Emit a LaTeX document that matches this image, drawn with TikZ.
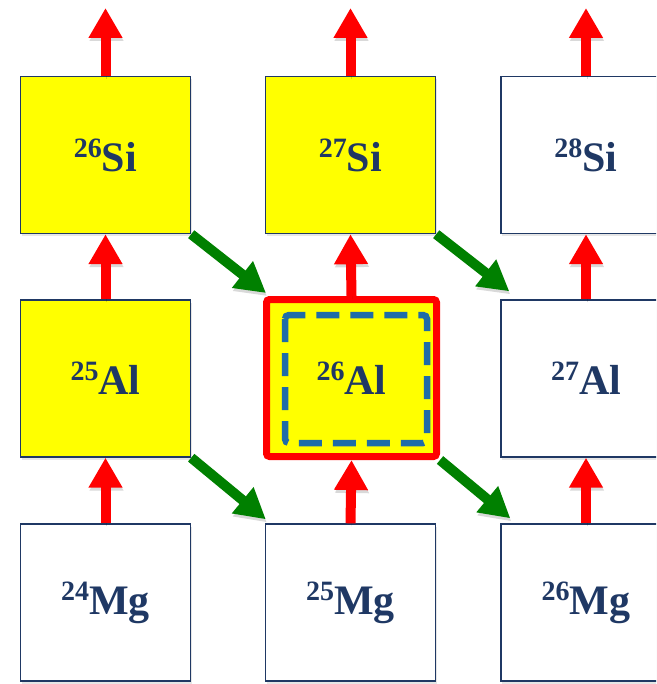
\documentclass[tikz,border=0pt]{standalone}
\usepackage{fontspec}
\setmainfont{Liberation Serif}[BoldFont={Liberation Serif Bold}]
\newfontfamily\nucfont{Liberation Serif}[BoldFont={Liberation Serif Bold}]
\usetikzlibrary{arrows.meta,shadows}

\newcommand{\nuc}[2]{\raisebox{14pt}{\fontsize{28}{28}\selectfont #1}#2}

\begin{document}
\begin{tikzpicture}[x=1pt,y=-1pt,
	nuclide/.style={draw={rgb,255:red,31; green,56; blue,100}, line width=1.4pt, minimum width=170pt, minimum height=157pt, inner sep=0pt, fill=white, text={rgb,255:red,31; green,56; blue,100}, font=\nucfont\bfseries\fontsize{42}{44}\selectfont, drop shadow={shadow xshift=1pt, shadow yshift=-3pt, opacity=0.2}},
	proton rich/.style={nuclide, fill={rgb,255:red,255; green,255; blue,0}},
	target/.style={proton rich, draw={rgb,255:red,255; green,0; blue,0}, line width=7pt, rounded corners=3pt},
	capture/.style={draw={rgb,255:red,255; green,0; blue,0}, line width=10pt, -{Triangle[width=32pt,length=30pt]}, preaction={draw=black, draw opacity=0.15, fill opacity=0.15, transform canvas={shift={(1,3)}}}},
	decay/.style={draw={rgb,255:red,0; green,128; blue,0}, line width=10pt, -{Triangle[width=32pt,length=30pt]}, preaction={draw=black, draw opacity=0.15, fill opacity=0.15, transform canvas={shift={(1,3)}}}},
	dashbox/.style={draw={rgb,255:red,30; green,108; blue,168}, line width=6.5pt, dash pattern=on 23pt off 11pt, rounded corners=4pt}]
	\useasboundingbox (0,0) rectangle (656,684);
	\clip (0,0) rectangle (656,684);

	% nuclides
	\node [proton rich] (si26) at (105.5,155) {\nuc{26}{Si}};
	\node [proton rich] (si27) at (350.5,155) {\nuc{27}{Si}};
	\node [nuclide] (si28) at (586,155) {\nuc{28}{Si}};
	\node [proton rich] (al25) at (105.5,378.5) {\nuc{25}{Al}};
	\node [target] (al26) at (351.5,378) {\nuc{26}{Al}};
	\node [nuclide] (al27) at (586,378.5) {\nuc{27}{Al}};
	\node [nuclide] (mg24) at (105.5,602.5) {\nuc{24}{Mg}};
	\node [nuclide] (mg25) at (350.5,602.5) {\nuc{25}{Mg}};
	\node [nuclide] (mg26) at (586,602.5) {\nuc{26}{Mg}};

	\draw [dashbox] ([shift={(22,19)}]al26.north west) rectangle ([shift={(-13,-17)}]al26.south east);

	% free ends above the top row
	\coordinate (out1) at (105.5,8);
	\coordinate (out2) at (350.5,8);
	\coordinate (out3) at (586,8);

	% proton captures
	\draw [capture] (si26.north) -- (out1);
	\draw [capture] (si27.north) -- (out2);
	\draw [capture] (si28.north) -- (out3);
	\draw [capture] (al25.north) -- (si26.south);
	\draw [capture] (al26.north) -- (si27.south);
	\draw [capture] (al27.north) -- (si28.south);
	\draw [capture] (mg24.north) -- (al25.south);
	\draw [capture] (mg25.north) -- (al26.south);
	\draw [capture] (mg26.north) -- (al27.south);

	% beta decays
	\draw [decay] (si26.south east) -- ([shift={(3,-3)}]al26.north west);
	\draw [decay] (si27.south east) -- ([shift={(9,-8)}]al27.north west);
	\draw [decay] (al25.south east) -- ([shift={(1,-4)}]mg25.north west);
	\draw [decay] (al26.south east) -- ([shift={(10,-5)}]mg26.north west);
\end{tikzpicture}
\end{document}
